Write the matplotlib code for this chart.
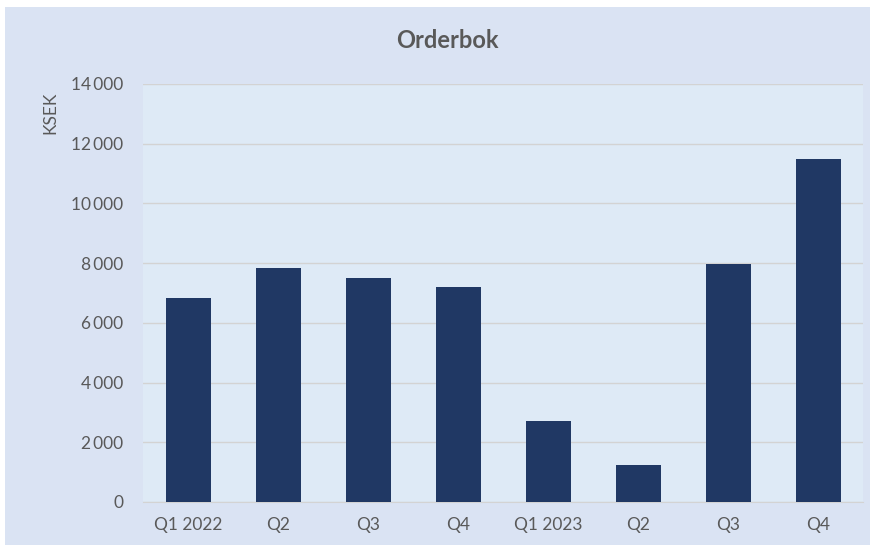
import matplotlib
matplotlib.use("Agg")
import matplotlib.pyplot as plt
from matplotlib.patches import Rectangle
from matplotlib.ticker import FuncFormatter

categories = ["Q1 2022", "Q2", "Q3", "Q4", "Q1 2023", "Q2", "Q3", "Q4"]
values = [6830, 7840, 7500, 7200, 2710, 1240, 7970, 11490]
yticks = [0, 2000, 4000, 6000, 8000, 10000, 12000, 14000]

plt.rcParams['font.family'] = ['Lato', 'DejaVu Sans']
W, H = 877, 550
fig = plt.figure(figsize=(W/100, H/100), dpi=100, facecolor='white')
fig.patches.append(Rectangle((5/W, 1-545/H), (870-5)/W, (545-7)/H,
                             transform=fig.transFigure, facecolor='#DAE3F3',
                             edgecolor='none', zorder=-10))
ax = fig.add_axes([143/W, 1-502/H, (863-143)/W, (502-84)/H])
ax.set_facecolor('#DEEAF6')
x = list(range(len(categories)))
ax.bar(x, values, width=0.5, color='#203864', zorder=3)
ax.set_xlim(-0.5, len(categories)-0.5)
ax.set_ylim(0, 14000)
ax.set_yticks(yticks)
ax.yaxis.set_major_formatter(FuncFormatter(lambda v, p: f"{int(v):,}".replace(",", "\u2009") if v >= 1000 else f"{int(v)}"))
ax.set_xticks(x)
ax.set_xticklabels(categories)
ax.grid(axis='y', color='#D3D3D3', linewidth=1, zorder=0)
for s in ['top', 'right', 'left']:
    ax.spines[s].set_visible(False)
ax.spines['bottom'].set_color('#D3D3D3')
ax.tick_params(axis='both', length=0, labelsize=12.5, colors='#595959')
ax.tick_params(axis='x', pad=11)
ax.tick_params(axis='y', pad=14)
ax.set_ylabel('KSEK', fontsize=12.5, color='#595959')
ax.yaxis.set_label_coords(-0.118, 0.93)
fig.text(447/W, 1-41/H, 'Orderbok', ha='center', va='center', fontsize=17,
         fontweight='bold', color='#595959')
fig.savefig('out.png', dpi=100, facecolor='white')
